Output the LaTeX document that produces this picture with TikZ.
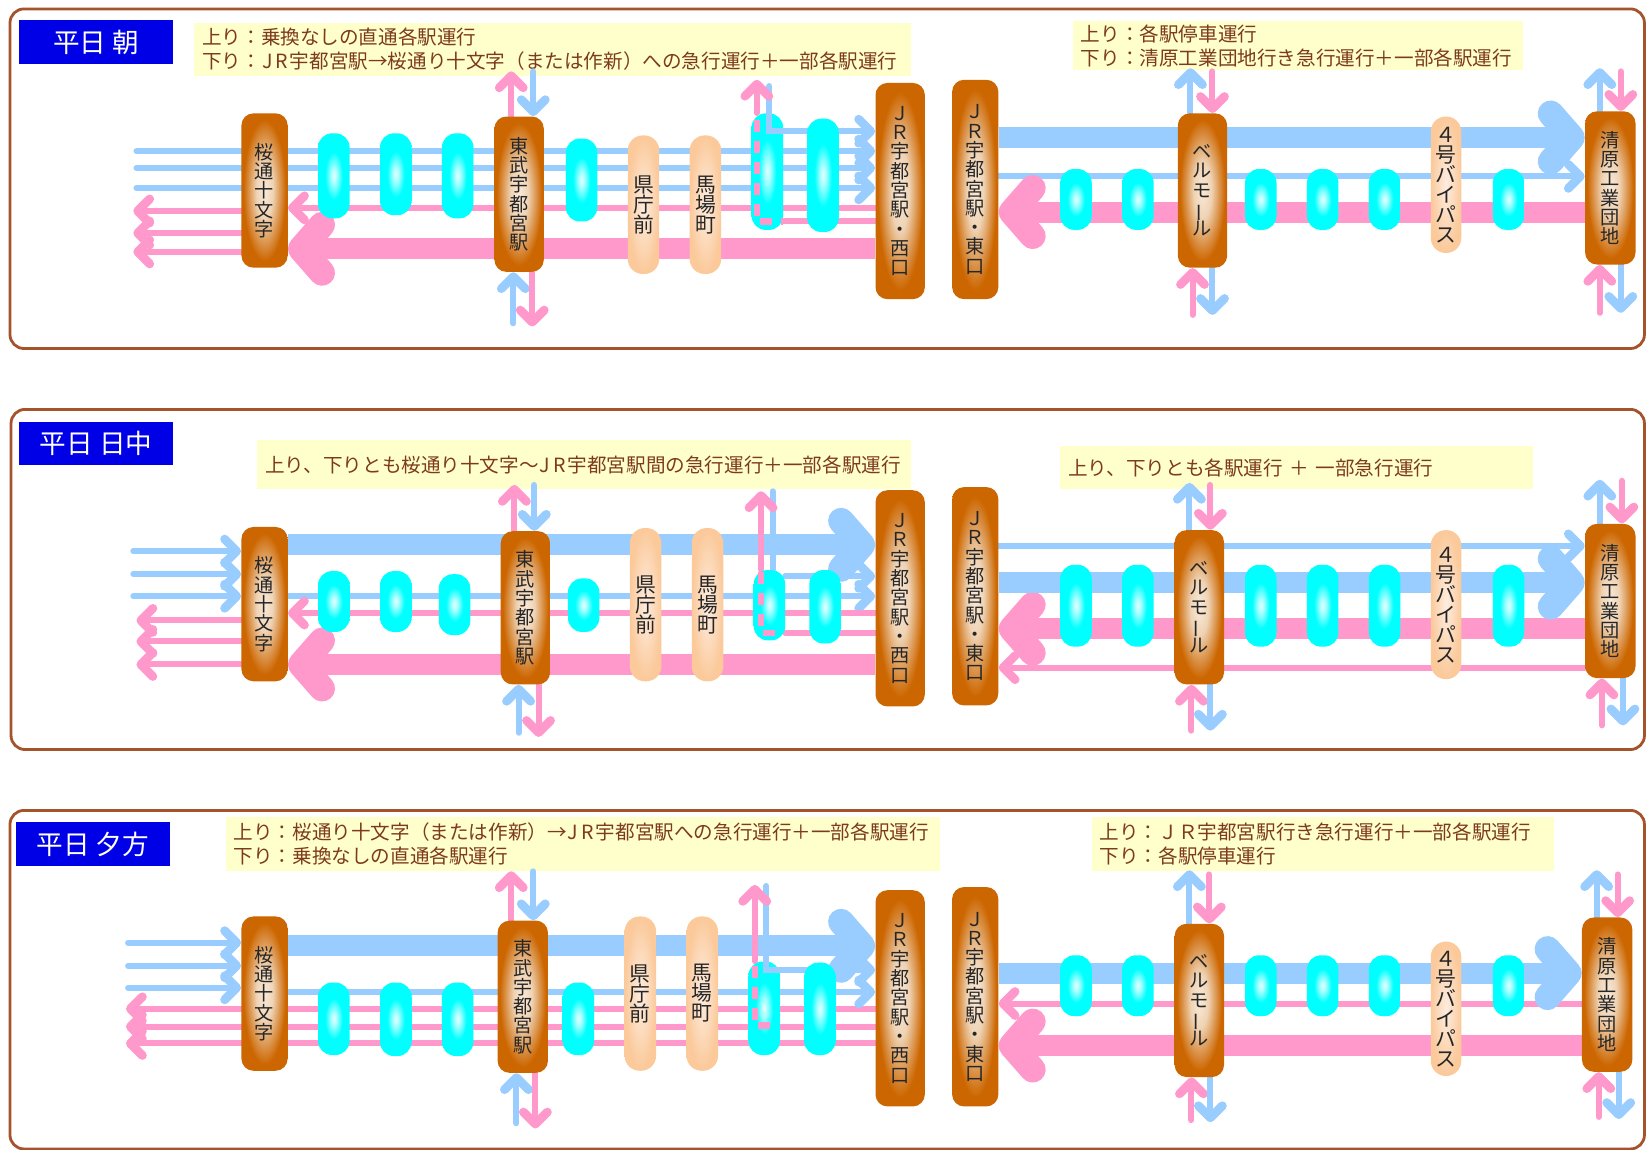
\documentclass[tikz,border=0pt]{standalone}
\usepackage{fontspec}
\setmainfont{Noto Sans CJK JP}
\usetikzlibrary{arrows.meta,backgrounds}
\definecolor{framebrown}{HTML}{A5532B}
\definecolor{labelblue}{HTML}{0000E6}
\definecolor{noteyellow}{HTML}{FFFFCC}
\definecolor{notetext}{HTML}{7D3A1E}
\definecolor{lineblue}{HTML}{99CCFF}
\definecolor{linepink}{HTML}{FF99CC}
\definecolor{stnout}{HTML}{CC6600}
\definecolor{stnin}{HTML}{F9E9D8}
\definecolor{stnmid}{HTML}{EFD3B4}
\definecolor{peachout}{HTML}{FBC99A}
\definecolor{peachin}{HTML}{FDEDE0}
\definecolor{cyanmid}{HTML}{A0FFFF}
\definecolor{cyancore}{HTML}{E8FFFF}
\definecolor{cyanfull}{HTML}{00FFFF}
\pgfdeclareradialshading{stnglow}{\pgfpoint{0bp}{0bp}}{color(0bp)=(stnin); color(9bp)=(stnmid); color(23bp)=(stnout); color(50bp)=(stnout)}
\pgfdeclareradialshading{peachglow}{\pgfpoint{0bp}{0bp}}{color(0bp)=(peachin); color(25bp)=(peachout); color(50bp)=(peachout)}
\pgfdeclareradialshading{cyanglow}{\pgfpoint{0bp}{0bp}}{color(0bp)=(cyancore); color(5bp)=(cyanmid); color(14bp)=(cyanfull); color(50bp)=(cyanfull)}
\def\uu{0.5249pt}
\AtBeginDocument{\lineskiplimit=-50pt\relax}
\tikzset{
  framebox/.style={draw=framebrown,line width=1.4pt,fill=white,rounded corners=7pt},
  labelbox/.style={fill=labelblue,text=white,font=\fontsize{13.3}{14}\selectfont,inner sep=0pt},
  notebox/.style={fill=noteyellow,text=notetext,font=\fontsize{9.8}{12}\selectfont,align=left,inner xsep=4pt,inner ysep=0pt},
  stnbox/.style={shading=stnglow,rounded corners=6pt,text=black!85,inner sep=0pt,align=center,
    font=\fontsize{9.6}{9.65}\selectfont},
  peachbox/.style={shading=peachglow,rounded corners=7.5pt,text=black!85,inner sep=0pt,align=center,
    font=\fontsize{10.4}{10}\selectfont},
  cyanbox/.style={shading=cyanglow,rounded corners=7pt,inner sep=0pt},
  tipthin/.style={-{Straight Barb[length=6pt,width=12pt,line width=4.4pt 0,round]}},
  tipbig/.style={-{Straight Barb[length=10.5pt,width=24pt,line width=13pt 0,round]}},
  thinblue/.style={draw=lineblue,line width=3pt,line cap=round},
  thinpink/.style={draw=linepink,line width=3pt,line cap=round},
  thickblue/.style={draw=lineblue,line width=10.5pt},
  thickpink/.style={draw=linepink,line width=10.5pt},
  dashpink/.style={draw=linepink,line width=3.2pt,dash pattern=on 6pt off 4.5pt},
}
\newcommand\pillnode[7]{\node[#1,minimum width={(#4-#3)*\uu},minimum height={(#6-#5)*\uu}] (#2) at ({(#3+#4)/2},{(#5+#6)/2}) {#7};}
\newcommand\notenode[7]{\node[#1,text width={(#4-#3)*\uu-8pt},minimum height={(#6-#5)*\uu}] (#2) at ({(#3+#4)/2},{(#5+#6)/2}) {#7};}
\newcommand\hlink[4]{\draw[#1] (#2 |- 0,#4) -- (#3 |- 0,#4);}
\newcommand\voutlink[4]{\coordinate (fe) at (#3,#4); \draw[#1] (fe |- #2) -- (fe);}
\newcommand\vinlink[4]{\coordinate (fe) at (#3,#4); \draw[#1] (fe) -- (fe |- #2);}
\newcommand\sakura{桜\\通\\十\\文\\字}
\newcommand\tobu{東\\武\\宇\\都\\宮\\駅}
\newcommand\jrwest{Ｊ\\Ｒ\\宇\\都\\宮\\駅\\・\\西\\口}
\newcommand\jreast{Ｊ\\Ｒ\\宇\\都\\宮\\駅\\・\\東\\口}
\newcommand\bellmall{ベ\\ル\\モ\\\rotatebox[origin=c]{90}{ー}\\ル}
\newcommand\kiyohara{清\\原\\工\\業\\団\\地}
\newcommand\yonbypass{４\\号\\バ\\イ\\パ\\ス}
\newcommand\jrtext{\kern0.5pt J\kern1.5pt R\kern1pt\relax}
\begin{document}
\begin{tikzpicture}[x=0.5249pt,y=-0.5249pt]
\useasboundingbox (0,0) rectangle (1568,1095.5);
\begin{scope}[on background layer]
\fill[white] (0,0) rectangle (1568,1095.5);
\pillnode{framebox}{fr1}{9.5}{1566.5}{8.5}{332}{}
\pillnode{framebox}{fr2}{10.5}{1566.5}{390}{714}{}
\pillnode{framebox}{fr3}{9.5}{1566.5}{772}{1094.5}{}
\pillnode{labelbox}{lab1}{18}{165}{19}{61}{平日 朝}
\pillnode{labelbox}{lab2}{18}{165}{402}{443}{平日 日中}
\pillnode{labelbox}{lab3}{15}{162}{783}{825}{平日 夕方}
\notenode{notebox}{na1}{185}{868}{22}{72}{上り：乗換なしの直通各駅運行\\下り：\jrtext 宇都宮駅→桜通り十文字（または作新）への急行運行＋一部各駅運行}
\notenode{notebox}{nb1}{1022}{1451}{20}{67}{上り：各駅停車運行\\下り：清原工業団地行き急行運行＋一部各駅運行}
\notenode{notebox}{na2}{245}{868}{419}{466}{上り、下りとも桜通り十文字～\jrtext 宇都宮駅間の急行運行＋一部各駅運行}
\notenode{notebox}{nb2}{1010}{1460}{425}{466}{上り、下りとも各駅運行 ＋ 一部急行運行}
\notenode{notebox}{na3}{215}{895}{778}{830}{上り：桜通り十文字（または作新）→\jrtext 宇都宮駅への急行運行＋一部各駅運行\\下り：乗換なしの直通各駅運行}
\notenode{notebox}{nb3}{1040}{1480}{778}{830}{上り：ＪＲ宇都宮駅行き急行運行＋一部各駅運行\\下り：各駅停車運行}
\end{scope}
% ---------- panel 1
\pillnode{stnbox}{sa1}{230}{274}{108}{255}{\sakura}
\pillnode{cyanbox}{c11}{303}{333}{127}{208}{}
\pillnode{cyanbox}{c12}{362}{392}{127}{205}{}
\pillnode{cyanbox}{c13}{421}{451}{127}{208}{}
\pillnode{stnbox}{tb1}{471}{518}{111}{259}{\tobu}
\pillnode{cyanbox}{c14}{539}{569}{132}{211}{}
\pillnode{peachbox}{kc1}{598}{628}{129}{261}{県\\庁\\前}
\pillnode{peachbox}{bb1}{657}{687}{129}{261}{馬\\場\\町}
\pillnode{cyanbox}{c15}{716}{746}{108}{219}{}
\pillnode{cyanbox}{c16}{769}{799}{113}{221}{}
\pillnode{stnbox}{jw1}{834}{881}{79}{285}{\jrwest}
\pillnode{stnbox}{je1}{907}{951}{76}{285}{\jreast}
\pillnode{cyanbox}{c17}{1010}{1040}{161}{219}{}
\pillnode{cyanbox}{c18}{1069}{1099}{161}{219}{}
\pillnode{stnbox}{bl1}{1122}{1169}{108}{255}{\bellmall}
\pillnode{cyanbox}{c19}{1186}{1216}{161}{219}{}
\pillnode{cyanbox}{c1a}{1245}{1275}{161}{219}{}
\pillnode{cyanbox}{c1b}{1304}{1334}{161}{219}{}
\pillnode{peachbox}{bp1}{1363}{1392}{111}{241}{\yonbypass}
\pillnode{cyanbox}{c1c}{1422}{1452}{161}{219}{}
\pillnode{stnbox}{sh1}{1510}{1558}{106}{252}{\kiyohara}
\coordinate (lb1) at (130,0);
\coordinate (lp1) at (127,0);
\coordinate (pt1) at (746,0);
\begin{scope}[on background layer]
\hlink{thinblue,tipthin}{lb1}{jw1.west}{144}
\hlink{thinblue,tipthin}{lb1}{jw1.west}{160}
\hlink{thinblue,tipthin}{lb1}{jw1.west}{179}
\hlink{thinpink,tipthin}{sa1.west}{lp1}{201}
\hlink{thinpink,tipthin}{sa1.west}{lp1}{222}
\hlink{thinpink,tipthin}{sa1.west}{lp1}{240}
\hlink{thinpink,tipthin}{jw1.west}{sa1.east}{198}
\hlink{thinpink}{jw1.west}{pt1}{211}
\hlink{thickpink,tipbig}{jw1.west}{sa1.east}{237}
\vinlink{thinblue}{c15.north}{733}{82}
\hlink{thinblue,tipthin}{pt1}{jw1.west}{125}
\voutlink{thinpink,tipthin}{c15.north}{721}{76}
\voutlink{thinpink,tipthin}{tb1.north}{487}{68}
\vinlink{thinblue,tipthin}{tb1.north}{508}{68}
\vinlink{thinblue,tipthin}{tb1.south}{489}{308}
\voutlink{thinpink,tipthin}{tb1.south}{507}{311}
\voutlink{thinblue,tipthin}{bl1.north}{1134}{65}
\vinlink{thinpink,tipthin}{bl1.north}{1155}{68}
\vinlink{thinpink,tipthin}{bl1.south}{1136}{300}
\voutlink{thinblue,tipthin}{bl1.south}{1155}{300}
\voutlink{thinblue,tipthin}{sh1.north}{1524}{65}
\vinlink{thinpink,tipthin}{sh1.north}{1544}{68}
\vinlink{thinpink,tipthin}{sh1.south}{1524}{298}
\voutlink{thinblue,tipthin}{sh1.south}{1544}{298}
\hlink{thinblue,tipthin}{je1.east}{sh1.west}{168}
\hlink{thickblue,tipbig}{je1.east}{sh1.west}{131}
\hlink{thickpink,tipbig}{sh1.west}{je1.east}{202}
\end{scope}
\coordinate (d1a) at (721,114);
\coordinate (d1b) at (721,211);
\coordinate (d1c) at (746,211);
\draw[dashpink] (d1a) -- (d1b) -- (d1c);
\coordinate (o1a) at (733,108);
\coordinate (o1b) at (733,125);
\draw[thinblue] (o1a) -- (o1b) -- (pt1 |- o1b);
% ---------- panel 2
\pillnode{stnbox}{sa2}{230}{274}{502}{649}{\sakura}
\pillnode{cyanbox}{c21}{303}{333}{544}{602}{}
\pillnode{cyanbox}{c22}{362}{392}{544}{602}{}
\pillnode{cyanbox}{c23}{418}{448}{547}{605}{}
\pillnode{stnbox}{tb2}{477}{524}{506}{652}{\tobu}
\pillnode{cyanbox}{c24}{541}{571}{551}{602}{}
\pillnode{peachbox}{kc2}{600}{630}{503}{649}{県\\庁\\前}
\pillnode{peachbox}{bb2}{659}{689}{503}{649}{馬\\場\\町}
\pillnode{cyanbox}{c25}{718}{748}{543}{610}{}
\pillnode{cyanbox}{c26}{771}{801}{543}{613}{}
\pillnode{stnbox}{jw2}{834}{881}{467}{673}{\jrwest}
\pillnode{stnbox}{je2}{907}{951}{464}{672}{\jreast}
\pillnode{cyanbox}{c27}{1010}{1040}{538}{616}{}
\pillnode{cyanbox}{c28}{1069}{1099}{538}{616}{}
\pillnode{stnbox}{bl2}{1119}{1166}{505}{652}{\bellmall}
\pillnode{cyanbox}{c29}{1186}{1216}{538}{616}{}
\pillnode{cyanbox}{c2a}{1245}{1275}{538}{616}{}
\pillnode{cyanbox}{c2b}{1304}{1334}{538}{616}{}
\pillnode{peachbox}{bp2}{1363}{1392}{505}{647}{\yonbypass}
\pillnode{cyanbox}{c2c}{1422}{1452}{538}{616}{}
\pillnode{stnbox}{sh2}{1510}{1558}{499}{646}{\kiyohara}
\coordinate (lb2) at (127,0);
\coordinate (lp2) at (130,0);
\coordinate (pt2) at (748,0);
\begin{scope}[on background layer]
\hlink{thinblue,tipthin}{lb2}{sa2.west}{525}
\hlink{thinblue,tipthin}{lb2}{sa2.west}{547}
\hlink{thinblue,tipthin}{lb2}{sa2.west}{568}
\hlink{thinpink,tipthin}{sa2.west}{lp2}{591}
\hlink{thinpink,tipthin}{sa2.west}{lp2}{611}
\hlink{thinpink,tipthin}{sa2.west}{lp2}{633}
\hlink{thinblue,tipthin}{sa2.east}{jw2.west}{568}
\hlink{thinblue,tipthin}{pt2}{jw2.west}{549}
\vinlink{thinblue}{c25.north}{736}{468}
\hlink{thickblue,tipbig}{sa2.east}{jw2.west}{519}
\hlink{thinpink,tipthin}{jw2.west}{sa2.east}{584}
\hlink{thinpink}{jw2.west}{pt2}{603}
\hlink{thickpink,tipbig}{jw2.west}{sa2.east}{633}
\voutlink{thinpink,tipthin}{c25.north}{725}{468}
\voutlink{thinpink,tipthin}{tb2.north}{490}{462}
\vinlink{thinblue,tipthin}{tb2.north}{509}{462}
\vinlink{thinblue,tipthin}{tb2.south}{494}{698}
\voutlink{thinpink,tipthin}{tb2.south}{513}{702}
\voutlink{thinblue,tipthin}{bl2.north}{1133}{460}
\vinlink{thinpink,tipthin}{bl2.north}{1153}{462}
\vinlink{thinpink,tipthin}{bl2.south}{1135}{696}
\voutlink{thinblue,tipthin}{bl2.south}{1153}{696}
\voutlink{thinblue,tipthin}{sh2.north}{1524}{457}
\vinlink{thinpink,tipthin}{sh2.north}{1545}{458}
\vinlink{thinpink,tipthin}{sh2.south}{1526}{691}
\voutlink{thinblue,tipthin}{sh2.south}{1546}{691}
\hlink{thickpink,tipbig}{sh2.west}{je2.east}{599}
\hlink{thinpink,tipthin}{sh2.west}{je2.east}{636}
\hlink{thinblue,tipthin}{je2.east}{sh2.west}{520}
\hlink{thickblue,tipbig}{je2.east}{sh2.west}{555}
\end{scope}
\coordinate (d2a) at (725,545);
\coordinate (d2b) at (725,603);
\coordinate (d2c) at (745,603);
\draw[dashpink] (d2a) -- (d2b) -- (d2c);
% ---------- panel 3
\pillnode{stnbox}{sa3}{230}{274}{873}{1020}{\sakura}
\pillnode{cyanbox}{c31}{303}{333}{936}{1005}{}
\pillnode{cyanbox}{c32}{362}{392}{936}{1006}{}
\pillnode{cyanbox}{c33}{421}{451}{936}{1006}{}
\pillnode{stnbox}{tb3}{474}{522}{877}{1022}{\tobu}
\pillnode{cyanbox}{c34}{536}{566}{936}{1005}{}
\pillnode{peachbox}{kc3}{595}{625}{873}{1020}{県\\庁\\前}
\pillnode{peachbox}{bb3}{654}{684}{873}{1020}{馬\\場\\町}
\pillnode{cyanbox}{c35}{713}{743}{916}{1005}{}
\pillnode{cyanbox}{c36}{766}{796}{917}{1005}{}
\pillnode{stnbox}{jw3}{834}{881}{848}{1054}{\jrwest}
\pillnode{stnbox}{je3}{907}{951}{845}{1054}{\jreast}
\pillnode{cyanbox}{c37}{1010}{1040}{910}{968}{}
\pillnode{cyanbox}{c38}{1069}{1099}{910}{968}{}
\pillnode{stnbox}{bl3}{1119}{1166}{880}{1026}{\bellmall}
\pillnode{cyanbox}{c39}{1186}{1216}{910}{968}{}
\pillnode{cyanbox}{c3a}{1245}{1275}{910}{968}{}
\pillnode{cyanbox}{c3b}{1304}{1334}{910}{968}{}
\pillnode{peachbox}{bp3}{1363}{1392}{897}{1025}{\yonbypass}
\pillnode{cyanbox}{c3c}{1422}{1452}{910}{968}{}
\pillnode{stnbox}{sh3}{1507}{1555}{874}{1021}{\kiyohara}
\coordinate (lb3) at (122,0);
\coordinate (lp3) at (120,0);
\coordinate (pt3) at (743,0);
\begin{scope}[on background layer]
\hlink{thinblue,tipthin}{lb3}{sa3.west}{898}
\hlink{thinblue,tipthin}{lb3}{sa3.west}{920}
\hlink{thinblue,tipthin}{lb3}{sa3.west}{941}
\hlink{thinpink,tipthin}{sa3.west}{lp3}{961}
\hlink{thinpink,tipthin}{sa3.west}{lp3}{978}
\hlink{thinpink,tipthin}{sa3.west}{lp3}{994}
\hlink{thinpink}{jw3.west}{sa3.east}{961}
\hlink{thinpink}{jw3.west}{sa3.east}{978}
\hlink{thinpink}{jw3.west}{sa3.east}{994}
\hlink{thinblue,tipthin}{sa3.east}{jw3.west}{945}
\hlink{thinblue,tipthin}{pt3}{jw3.west}{924}
\hlink{thickblue,tipbig}{sa3.east}{jw3.west}{901}
\vinlink{thinblue}{c35.north}{730}{844}
\voutlink{thinpink,tipthin}{c35.north}{719}{843}
\voutlink{thinpink,tipthin}{tb3.north}{487}{830}
\vinlink{thinblue,tipthin}{tb3.north}{508}{830}
\vinlink{thinblue,tipthin}{tb3.south}{492}{1070}
\voutlink{thinpink,tipthin}{tb3.south}{510}{1075}
\voutlink{thinblue,tipthin}{bl3.north}{1133}{829}
\vinlink{thinpink,tipthin}{bl3.north}{1152}{833}
\vinlink{thinpink,tipthin}{bl3.south}{1135}{1067}
\voutlink{thinblue,tipthin}{bl3.south}{1153}{1069}
\voutlink{thinblue,tipthin}{sh3.north}{1521}{829}
\vinlink{thinpink,tipthin}{sh3.north}{1541}{833}
\vinlink{thinpink,tipthin}{sh3.south}{1523}{1064}
\voutlink{thinblue,tipthin}{sh3.south}{1542}{1066}
\hlink{thinpink,tipthin}{sh3.west}{je3.east}{956}
\hlink{thickpink,tipbig}{sh3.west}{je3.east}{996}
\hlink{thickblue,tipbig}{je3.east}{sh3.west}{927}
\end{scope}
\coordinate (d3a) at (719,920);
\coordinate (d3b) at (719,977);
\coordinate (d3c) at (739,977);
\draw[dashpink] (d3a) -- (d3b) -- (d3c);
\coordinate (o3a) at (730,916);
\coordinate (o3b) at (730,924);
\draw[thinblue] (o3a) -- (o3b) -- (pt3 |- o3b);
\end{tikzpicture}
\end{document}
